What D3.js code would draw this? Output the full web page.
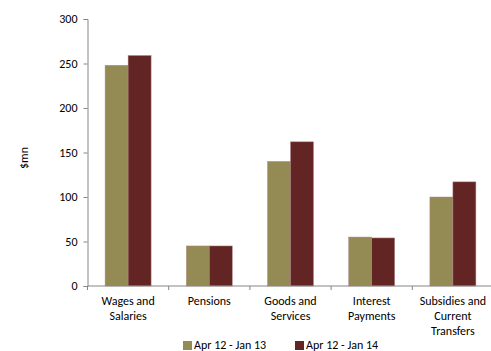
<!DOCTYPE html>
<html><head><meta charset="utf-8">
<script src="https://cdn.jsdelivr.net/npm/d3@7"></script>
<style>body{margin:0;background:#fff}svg text{font-family:Carlito,"Liberation Sans",Arial,sans-serif;fill:#000}</style>
</head><body>
<svg id="c" width="491" height="351"></svg>
<script>
const categories = [["Wages and","Salaries"],["Pensions"],["Goods and","Services"],["Interest","Payments"],["Subsidies and","Current","Transfers"]];
const seriesNames = ["Apr 12 - Jan 13","Apr 12 - Jan 14"];
const series1 = [248, 45, 140, 55, 100];
const series2 = [259, 45, 162, 54, 117];
const yTicks = [0,50,100,150,200,250,300];
const colors = ["#948a54","#632523"];

const svg = d3.select("#c");
const x0 = 87.5, x1 = 493.5, yTop = 19, yBot = 286;
const x = d3.scaleBand().domain(d3.range(categories.length)).range([x0,x1]);
const y = d3.scaleLinear().domain([0,300]).range([yBot,yTop]);
const inner = d3.scaleBand().domain([0,1]).range([0,46]);

const yAxis = svg.append("g").attr("transform",`translate(${x0},0)`)
  .call(d3.axisLeft(y).tickValues(yTicks).tickSize(4).tickPadding(6));
yAxis.select(".domain").attr("stroke","#868686");
yAxis.selectAll(".tick line").attr("stroke","#868686");
yAxis.selectAll("text").attr("font-size",12).attr("fill","#000");

const data = [series1, series2];
data.forEach((s,si)=>{
  svg.append("g").selectAll("rect").data(s).join("rect")
    .attr("x",(d,i)=>x(i)+x.bandwidth()/2-23+inner(si))
    .attr("width",inner.bandwidth())
    .attr("y",d=>y(d)).attr("height",d=>yBot-y(d))
    .attr("fill",colors[si]).attr("stroke","#b08a88").attr("stroke-width",0.5);
});

const xAxis = svg.append("g").attr("transform",`translate(0,${yBot})`);
xAxis.append("line").attr("x1",x0).attr("x2",x1).attr("stroke","#868686");
xAxis.selectAll("line.t").data(d3.range(categories.length+1)).join("line")
  .attr("class","t").attr("x1",i=>x0+i*x.step()).attr("x2",i=>x0+i*x.step())
  .attr("y1",0).attr("y2",4).attr("stroke","#868686");
categories.forEach((lines,i)=>{
  const t = xAxis.append("text").attr("text-anchor","middle").attr("font-size",12)
    .attr("x",x(i)+x.bandwidth()/2).attr("y",19);
  lines.forEach((l,j)=>t.append("tspan").attr("x",x(i)+x.bandwidth()/2).attr("dy",j?15.2:0).text(l));
});

svg.append("text").attr("transform","translate(28,158) rotate(-90)")
  .attr("text-anchor","middle").attr("font-size",12).text("$mn");

const lg = svg.append("g");
const lx = [183, 295];
seriesNames.forEach((n,i)=>{
  lg.append("rect").attr("x",lx[i]).attr("y",341).attr("width",9).attr("height",9).attr("fill",colors[i]);
  lg.append("text").attr("x",lx[i]+11).attr("y",348.5).attr("font-size",12).text(n);
});
</script>
</body></html>
